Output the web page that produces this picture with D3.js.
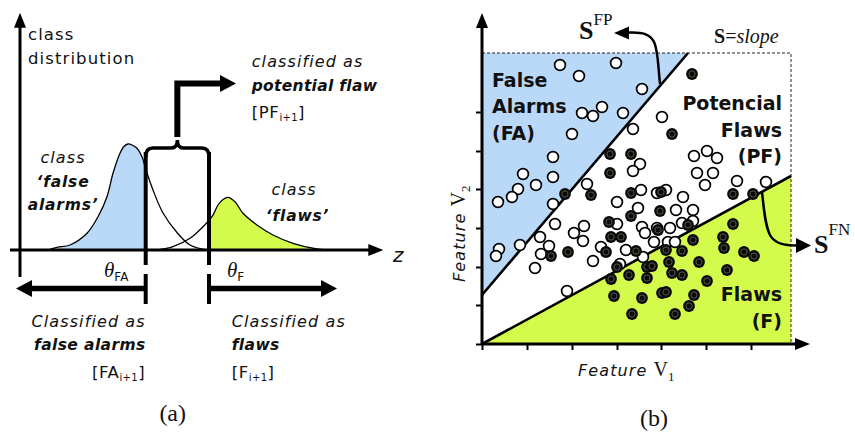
<!DOCTYPE html>
<html>
<head>
<meta charset="utf-8">
<script src="https://cdn.jsdelivr.net/npm/d3@7"></script>
<style>
  body { margin: 0; background: #fff; }
  text { fill: #111; }
  .sans { font-family: "DejaVu Sans", sans-serif; }
  .serif { font-family: "Liberation Serif", serif; }
</style>
</head>
<body>
<svg id="fig" width="855" height="433"></svg>
<script>
// ---- (a) class distributions along z ----
const faZ = [28, 37, 50, 67, 78, 87, 93, 100, 104, 108, 112, 117, 122, 126, 133, 143, 157, 170, 187];
const faDensity = [0, 2.7, 5, 16.7, 33.3, 53.3, 76.7, 96.7, 103.5, 106, 105, 101.7, 93.3, 80, 60, 37, 17.5, 5, 0];
const flawZ = [137, 153, 170, 183, 192, 198, 203, 208, 215, 223, 237, 253, 273, 297, 310];
const flawDensity = [0, 3.3, 11.7, 23.3, 33.3, 45, 50.5, 52.7, 48.3, 36.7, 25, 15, 6.7, 1, 0];
const thetaFA = 125.7;
const thetaF = 189;

// ---- (b) feature space ----
const openV1 = [78, 134, 97, 160, 100, 111, 120, 141, 90, 71, 41, 71, 54, 36, 30, 16, 71, 151, 158, 151,
  105, 180, 212, 225, 235, 215, 231, 223, 255, 284, 135, 159, 184, 175, 201, 156, 194, 211, 73, 102,
  92, 101, 58, 67, 59, 38, 17, 14, 53, 111, 119, 85, 135, 144, 138, 161, 160, 163, 175, 188,
  172, 186, 193, 200, 211];
const openV2 = [279, 281, 268, 255, 231, 228, 237, 231, 210, 187, 170, 167, 159, 155, 147, 142, 140, 215, 180, 173,
  160, 227, 188, 193, 186, 171, 171, 159, 163, 162, 142, 154, 154, 151, 147, 136, 134, 134, 120, 118,
  111, 103, 107, 98, 90, 99, 95, 88, 76, 83, 97, 53, 120, 94, 80, 87, 117, 111, 116, 116,
  102, 102, 102, 121, 123];
const flawV1 = [210, 190, 128, 149, 128, 83, 109, 149, 179, 251, 271, 178, 149, 127, 129, 139, 69, 86, 124, 154,
  135, 129, 147, 132, 150, 160, 165, 170, 165, 180, 184, 176, 206, 184, 200, 187, 190, 200, 211, 217,
  225, 212, 207, 193, 241, 242, 251, 245, 262, 272];
const flawV2 = [270, 210, 190, 190, 171, 150, 149, 151, 152, 150, 150, 133, 128, 122, 107, 107, 88, 92, 92, 93,
  77, 65, 69, 48, 30, 46, 77, 78, 66, 51, 52, 114, 119, 94, 93, 82, 71, 69, 104, 82,
  63, 49, 38, 30, 107, 96, 120, 74, 92, 88];
const fpLine = [[0, 49], [206, 291]];
const fnLine = [[0, 0], [309, 168]];
const v1Ticks = [0, 45, 90, 135, 179, 224, 269];
const v2Ticks = [0, 39, 77, 116, 155, 193, 232];

const blue = "#bad9f8";
const green = "#d4fb4c";

const svg = d3.select("#fig");
svg.append("rect").attr("width", 855).attr("height", 433).attr("fill", "#fff");
const defs = svg.append("defs");

// arrow head: tip point, direction (unit vector), length, half width
function head(g, tx, ty, dx, dy, len, half) {
  const bx = tx - dx * len, by = ty - dy * len;
  const pts = [[tx, ty], [bx - dy * half, by + dx * half], [bx + dy * half, by - dx * half]];
  g.append("polygon").attr("points", pts.map(p => p.join(",")).join(" ")).attr("fill", "#000");
}

// text with several styled parts
function label(g, x, y, parts, anchor) {
  const t = g.append("text").attr("x", x).attr("y", y).attr("text-anchor", anchor || "start");
  parts.forEach(p => {
    const s = t.append("tspan").text(p.t)
      .attr("class", p.serif ? "serif" : "sans")
      .attr("font-size", p.size || 16)
      .attr("font-weight", p.bold ? "bold" : "normal")
      .attr("font-style", p.italic ? "italic" : "normal")
      .attr("letter-spacing", p.ls != null ? p.ls : (p.serif ? 0 : 1.1));
    if (p.dy) s.attr("dy", p.dy);
  });
  return t;
}

// ================= panel (a) =================
const ga = svg.append("g");
const zX = d3.scaleLinear().domain([0, 360]).range([20, 380]);
const dY = d3.scaleLinear().domain([0, 110]).range([250, 140]);

const faPts = faZ.map((z, i) => [z, faDensity[i]]);
const flawPts = flawZ.map((z, i) => [z, flawDensity[i]]);

const area = d3.area().x(d => zX(d[0])).y0(dY(0)).y1(d => dY(d[1])).curve(d3.curveCatmullRom);
const line = d3.line().x(d => zX(d[0])).y(d => dY(d[1])).curve(d3.curveCatmullRom);

defs.append("clipPath").attr("id", "clipFA").append("rect")
  .attr("x", 0).attr("y", 0).attr("width", zX(thetaFA)).attr("height", 433);
defs.append("clipPath").attr("id", "clipF").append("rect")
  .attr("x", zX(thetaF)).attr("y", 0).attr("width", 855 - zX(thetaF)).attr("height", 433);

ga.append("path").datum(faPts).attr("d", area).attr("fill", blue).attr("clip-path", "url(#clipFA)");
ga.append("path").datum(flawPts).attr("d", area).attr("fill", green).attr("clip-path", "url(#clipF)");
ga.append("path").datum(faPts).attr("d", line).attr("fill", "none").attr("stroke", "#000").attr("stroke-width", 1.3);
ga.append("path").datum(flawPts).attr("d", line).attr("fill", "none").attr("stroke", "#000").attr("stroke-width", 1.3);

// axes
ga.append("line").attr("x1", zX(-10)).attr("x2", zX(350)).attr("y1", dY(0)).attr("y2", dY(0))
  .attr("stroke", "#000").attr("stroke-width", 3);
head(ga, zX(363.3), dY(0), 1, 0, 15, 6);
ga.append("line").attr("x1", zX(0)).attr("x2", zX(0)).attr("y1", 277).attr("y2", 25)
  .attr("stroke", "#000").attr("stroke-width", 3);
head(ga, zX(0), 12.7, 0, -1, 15, 6);

// thresholds
const xFA = zX(thetaFA), xF = zX(thetaF);
[xFA, xF].forEach(x => {
  ga.append("line").attr("x1", x).attr("x2", x).attr("y1", 152).attr("y2", 265)
    .attr("stroke", "#000").attr("stroke-width", 4);
  ga.append("line").attr("x1", x).attr("x2", x).attr("y1", 274).attr("y2", 304)
    .attr("stroke", "#000").attr("stroke-width", 4);
});

// brace over the potential-flaw band
const xm = (xFA + xF) / 2;
ga.append("path")
  .attr("d", `M${xFA},157 Q${xFA},148 ${xFA + 7},148 L${xm - 6},148 Q${xm},148 ${xm},140 Q${xm},148 ${xm + 6},148 L${xF - 7},148 Q${xF},148 ${xF},157`)
  .attr("fill", "none").attr("stroke", "#000").attr("stroke-width", 3.5);
ga.append("path").attr("d", `M${xm},137 L${xm},83.5 L${222},83.5`)
  .attr("fill", "none").attr("stroke", "#000").attr("stroke-width", 6).attr("stroke-linejoin", "miter");
head(ga, 236, 83.5, 1, 0, 16, 8.5);

// outward arrows
ga.append("line").attr("x1", xFA).attr("x2", 30).attr("y1", 288.5).attr("y2", 288.5)
  .attr("stroke", "#000").attr("stroke-width", 5.5);
head(ga, 16, 288.5, -1, 0, 16, 8.5);
ga.append("line").attr("x1", xF).attr("x2", 322).attr("y1", 288.5).attr("y2", 288.5)
  .attr("stroke", "#000").attr("stroke-width", 5.5);
head(ga, 337, 288.5, 1, 0, 16, 8.5);

// texts (a)
label(ga, 28, 40, [{ t: "class", size: 16.5 }]);
label(ga, 28, 64, [{ t: "distribution", size: 16.5 }]);
label(ga, 251.7, 66.7, [{ t: "classified as", italic: true }]);
label(ga, 251.7, 90.7, [{ t: "potential flaw", italic: true, bold: true, size: 15.5, ls: 0.3 }]);
label(ga, 251.7, 118.3, [{ t: "[PF", size: 16.5, ls: 0.6 }, { t: "i+1", size: 10, dy: 3, ls: 0.4 }, { t: "]", size: 16.5, dy: -3 }]);
label(ga, 63, 163.3, [{ t: "class", italic: true }], "middle");
label(ga, 63, 186.7, [{ t: "\u2018false", italic: true, bold: true, size: 15.5, ls: 0.8 }], "middle");
label(ga, 63, 210, [{ t: "alarms\u2019", italic: true, bold: true, size: 15.5, ls: 0.8 }], "middle");
label(ga, 294, 195, [{ t: "class", italic: true }], "middle");
label(ga, 297.5, 220.7, [{ t: "\u2018flaws\u2019", italic: true, bold: true, size: 15.5, ls: 0.8 }], "middle");
label(ga, 393, 262, [{ t: "z", italic: true, size: 20, ls: 0 }]);
label(ga, 104, 277, [{ t: "\u03b8", italic: true, serif: true, size: 21 }, { t: "FA", size: 12, dy: 4, ls: 0 }]);
label(ga, 227, 277, [{ t: "\u03b8", italic: true, serif: true, size: 21 }, { t: "F", size: 12, dy: 4, ls: 0 }]);
label(ga, xFA, 326.7, [{ t: "Classified as", italic: true }], "end");
label(ga, xFA, 350, [{ t: "false alarms", italic: true, bold: true, size: 15.5, ls: 0.4 }], "end");
label(ga, xFA, 378.3, [{ t: "[FA", size: 16.5, ls: 0.6 }, { t: "i+1", size: 10, dy: 3, ls: 0.4 }, { t: "]", size: 16.5, dy: -3 }], "end");
label(ga, 231.7, 326.7, [{ t: "Classified as", italic: true }]);
label(ga, 231.7, 350, [{ t: "flaws", italic: true, bold: true, size: 15.5, ls: 0.4 }]);
label(ga, 231.7, 378.3, [{ t: "[F", size: 16.5, ls: 0.6 }, { t: "i+1", size: 10, dy: 3, ls: 0.4 }, { t: "]", size: 16.5, dy: -3 }]);
label(ga, 172.7, 421, [{ t: "(a)", serif: true, size: 24 }], "middle");

// ================= panel (b) =================
const gb = svg.append("g");
const v1 = d3.scaleLinear().domain([0, 309]).range([482, 791]);
const v2 = d3.scaleLinear().domain([0, 291]).range([344, 53]);
const v1Max = 309, v2Max = 291;
const poly = pts => pts.map(p => [v1(p[0]), v2(p[1])].join(",")).join(" ");

gb.append("polygon").attr("fill", blue)
  .attr("points", poly([fpLine[0], fpLine[1], [0, v2Max]]));
gb.append("polygon").attr("fill", green)
  .attr("points", poly([fnLine[0], fnLine[1], [v1Max, 0]]));

gb.append("path")
  .attr("d", `M${v1(0)},${v2(v2Max)} H${v1(v1Max)} V${v2(0)}`)
  .attr("fill", "none").attr("stroke", "#222").attr("stroke-width", 1).attr("stroke-dasharray", "3,2");

[fpLine, fnLine].forEach(l => {
  gb.append("line")
    .attr("x1", v1(l[0][0])).attr("y1", v2(l[0][1]))
    .attr("x2", v1(l[1][0])).attr("y2", v2(l[1][1]))
    .attr("stroke", "#000").attr("stroke-width", 2.6);
});

// samples
const openPts = openV1.map((x, i) => [x, openV2[i]]);
const flawPts2 = flawV1.map((x, i) => [x, flawV2[i]]);

gb.selectAll(".open-pt").data(openPts).enter().append("circle")
  .attr("class", "open-pt")
  .attr("cx", d => v1(d[0])).attr("cy", d => v2(d[1])).attr("r", 5.4)
  .attr("fill", "#fff").attr("stroke", "#000").attr("stroke-width", 1.7);

const fp = gb.selectAll(".flaw-pt").data(flawPts2).enter().append("g").attr("class", "flaw-pt")
  .attr("transform", d => `translate(${v1(d[0])},${v2(d[1])})`);
fp.append("circle").attr("r", 5.9).attr("fill", "#0a0a0a");
fp.append("circle").attr("r", 3.1).attr("fill", "none").attr("stroke", "#5e5e48").attr("stroke-width", 0.9);

// axes
gb.append("g").attr("transform", `translate(0,${v2(0)})`)
  .call(d3.axisBottom(v1).tickValues(v1Ticks).tickSize(6).tickFormat(""))
  .call(g => g.select(".domain").remove())
  .call(g => g.selectAll("line").attr("stroke", "#000").attr("stroke-width", 2));
gb.append("g").attr("transform", `translate(${v1(0)},0)`)
  .call(d3.axisLeft(v2).tickValues(v2Ticks).tickSize(6).tickFormat(""))
  .call(g => g.select(".domain").remove())
  .call(g => g.selectAll("line").attr("stroke", "#000").attr("stroke-width", 2));

gb.append("line").attr("x1", v1(0)).attr("x2", 797).attr("y1", v2(0)).attr("y2", v2(0))
  .attr("stroke", "#000").attr("stroke-width", 3);
head(gb, 810, v2(0), 1, 0, 15, 6);
gb.append("line").attr("x1", v1(0)).attr("x2", v1(0)).attr("y1", v2(0)).attr("y2", 26)
  .attr("stroke", "#000").attr("stroke-width", 3);
head(gb, v1(0), 13, 0, -1, 15, 6);

// S^FP and S^FN pointers
gb.append("path").attr("d", "M660,84 C658,65 658,50 654,42 C650,34 643,32 629,32.5")
  .attr("fill", "none").attr("stroke", "#000").attr("stroke-width", 2.5);
head(gb, 614, 33, -1, 0, 15, 6.5);
gb.append("path").attr("d", "M762,192 C764,210 765,225 770,235 C775,244 785,245.5 796,245.5")
  .attr("fill", "none").attr("stroke", "#000").attr("stroke-width", 2.5);
head(gb, 811, 245.5, 1, 0, 15, 7.5);

// region labels
const bl = { bold: true, size: 19, ls: 0 };
label(gb, 492, 87, [{ ...bl, t: "False" }]);
label(gb, 492, 113, [{ ...bl, t: "Alarms" }]);
label(gb, 492, 140, [{ ...bl, t: "(FA)" }]);
label(gb, 782, 110, [{ ...bl, t: "Potencial" }], "end");
label(gb, 782, 136.5, [{ ...bl, t: "Flaws" }], "end");
label(gb, 782, 163, [{ ...bl, t: "(PF)" }], "end");
label(gb, 782, 300.5, [{ ...bl, t: "Flaws" }], "end");
label(gb, 782, 328, [{ ...bl, t: "(F)" }], "end");

label(gb, 579, 38.5, [{ t: "S", serif: true, bold: true, size: 26 }, { t: "FP", serif: true, size: 17, dy: -14 }]);
label(gb, 814, 253, [{ t: "S", serif: true, bold: true, size: 26 }, { t: "FN", serif: true, size: 17, dy: -18 }]);
label(gb, 714, 43.3, [{ t: "S", serif: true, bold: true, size: 20 }, { t: "=", serif: true, size: 20 },
  { t: "slope", serif: true, italic: true, size: 20 }]);

label(gb, 578, 376, [{ t: "Feature ", italic: true }, { t: "V", serif: true, size: 20 },
  { t: "1", serif: true, size: 13, dy: 5 }]);
label(gb, 0, 0, [{ t: "Feature ", italic: true }, { t: "V", serif: true, size: 20 },
  { t: "2", serif: true, size: 13, dy: 5 }])
  .attr("transform", "translate(465,282) rotate(-90)");

label(gb, 654, 426, [{ t: "(b)", serif: true, size: 24 }], "middle");
</script>
</body>
</html>
